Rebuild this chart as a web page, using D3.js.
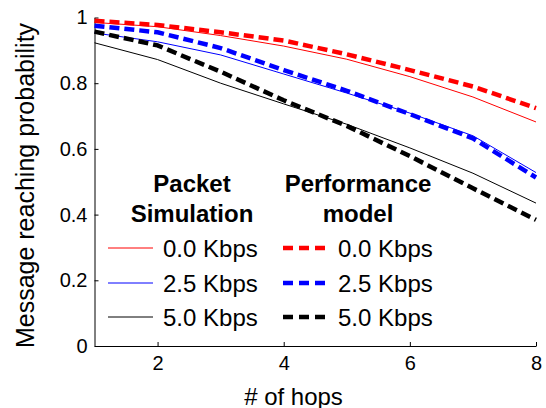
<!DOCTYPE html>
<html>
<head>
<meta charset="utf-8">
<script src="https://cdn.jsdelivr.net/npm/d3@7"></script>
<style>
  body { margin: 0; background: #fff; }
  text { font-family: "Liberation Sans", Arial, sans-serif; }
</style>
</head>
<body>
<div id="chart"></div>
<script>
  // Data
  const hops = [1, 2, 3, 4, 5, 6, 7, 8];
  const sim0 = [0.985, 0.972, 0.945, 0.913, 0.873, 0.82, 0.758, 0.682];
  const sim25 = [0.953, 0.926, 0.886, 0.828, 0.77, 0.709, 0.64, 0.528];
  const sim50 = [0.923, 0.872, 0.80, 0.737, 0.675, 0.603, 0.526, 0.435];
  const model0 = [0.99, 0.977, 0.955, 0.93, 0.888, 0.84, 0.79, 0.724];
  const model25 = [0.975, 0.955, 0.907, 0.84, 0.777, 0.706, 0.632, 0.513];
  const model50 = [0.957, 0.915, 0.835, 0.748, 0.67, 0.578, 0.48, 0.384];
  const rateLabels = ["0.0 Kbps", "2.5 Kbps", "5.0 Kbps"];
  const colors = ["#ff0000", "#0000ff", "#000000"];
  const xTicks = [2, 4, 6, 8];
  const yTicks = [0, 0.2, 0.4, 0.6, 0.8, 1];

  const simSeries = [sim0, sim25, sim50];
  const modelSeries = [model0, model25, model50];

  const W = 546, H = 408;
  const margin = { top: 17.5, right: 10, bottom: 62, left: 94.5 };
  const width = W - margin.left - margin.right;
  const height = H - margin.top - margin.bottom;

  const svg = d3.select("#chart").append("svg")
      .attr("width", W)
      .attr("height", H);
  const g = svg.append("g")
      .attr("transform", `translate(${margin.left},${margin.top})`);

  const x = d3.scaleLinear().domain([1, 8]).range([0, width]);
  const y = d3.scaleLinear().domain([0, 1]).range([height, 0]);

  // Axes with inward ticks
  const xAxis = g.append("g")
      .attr("transform", `translate(0,${height})`)
      .call(d3.axisBottom(x).tickValues(xTicks).tickSizeInner(-4).tickSizeOuter(0).tickPadding(10).tickFormat(d3.format("d")));
  const yAxis = g.append("g")
      .call(d3.axisLeft(y).tickValues(yTicks).tickSizeInner(-4).tickSizeOuter(0).tickPadding(7).tickFormat(d => d === 0 || d === 1 ? d : d3.format(".1f")(d)));
  [xAxis, yAxis].forEach(a => {
    a.select(".domain").attr("stroke", "#000").attr("stroke-width", 1);
    a.selectAll(".tick line").attr("stroke", "#000");
    a.selectAll(".tick text").attr("fill", "#000").style("font-size", "20px");
  });

  const line = d3.line().x((d, i) => x(hops[i])).y(d => y(d));

  // Simulation curves: thin solid
  simSeries.forEach((s, i) => {
    g.append("path").datum(s)
        .attr("fill", "none")
        .attr("stroke", colors[i])
        .attr("stroke-width", 1)
        .attr("d", line);
  });

  // Model curves: thick dashed
  modelSeries.forEach((s, i) => {
    g.append("path").datum(s)
        .attr("fill", "none")
        .attr("stroke", colors[i])
        .attr("stroke-width", 4.5)
        .attr("stroke-dasharray", "10,5")
        .attr("d", line);
  });

  // Axis labels
  svg.append("text")
      .attr("x", 293.5)
      .attr("y", 404.5)
      .attr("text-anchor", "middle")
      .style("font-size", "24px")
      .text("# of hops");

  svg.append("text")
      .attr("transform", "translate(33.5,185.5) rotate(-90)")
      .attr("text-anchor", "middle")
      .style("font-size", "25px")
      .text("Message reaching probability");

  // Legend, two columns
  const leg = svg.append("g");
  const rowY = [248, 283, 317];

  const headers = [
    { cx: 192, lines: ["Packet", "Simulation"] },
    { cx: 358, lines: ["Performance", "model"] }
  ];
  headers.forEach(h => {
    h.lines.forEach((t, k) => {
      leg.append("text")
          .attr("x", h.cx)
          .attr("y", 192 + k * 30)
          .attr("text-anchor", "middle")
          .style("font-size", "24px")
          .style("font-weight", "bold")
          .text(t);
    });
  });

  rateLabels.forEach((lab, i) => {
    leg.append("line")
        .attr("x1", 108).attr("x2", 153)
        .attr("y1", rowY[i]).attr("y2", rowY[i])
        .attr("stroke", colors[i]).attr("stroke-width", 1);
    leg.append("text")
        .attr("x", 163).attr("y", rowY[i] + 8.5)
        .style("font-size", "24px")
        .text(lab);

    leg.append("line")
        .attr("x1", 283).attr("x2", 325)
        .attr("y1", rowY[i]).attr("y2", rowY[i])
        .attr("stroke", colors[i]).attr("stroke-width", 4.5)
        .attr("stroke-dasharray", "10,6");
    leg.append("text")
        .attr("x", 338).attr("y", rowY[i] + 8.5)
        .style("font-size", "24px")
        .text(lab);
  });
</script>
</body>
</html>
